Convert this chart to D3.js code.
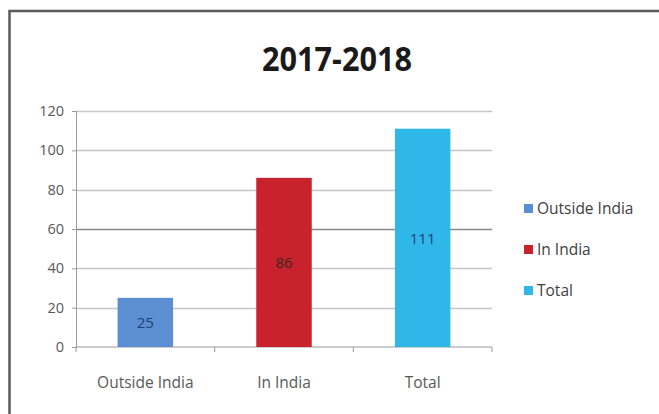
<!DOCTYPE html>
<html>
<head>
<meta charset="utf-8">
<script src="https://cdn.jsdelivr.net/npm/d3@7/dist/d3.min.js"></script>
<style>
  body { margin: 0; background: #fff; }
  svg { display: block; font-family: "Open Sans", sans-serif; }
</style>
</head>
<body>
<svg id="chart"></svg>
<script>
// Chart data
const categories = ["Outside India", "In India", "Total"];
const values = [25, 86, 111];
const barColors = ["#5b8ed2", "#c8232c", "#2fb7ea"];
const labelColors = ["#1f3f73", "#3b2525", "#1f3f7a"];
const yTicks = [0, 20, 40, 60, 80, 100, 120];
const title = "2017-2018";

const width = 659, height = 414;
const margin = { left: 76, right: 167, top: 111, bottom: 67 };

const svg = d3.select("#chart")
    .attr("width", width)
    .attr("height", height);

// Outer frame (runs off the right and bottom edges)
svg.append("rect")
    .attr("x", 9.5)
    .attr("y", 11)
    .attr("width", 700)
    .attr("height", 450)
    .attr("fill", "none")
    .attr("stroke", "#5a5a5a")
    .attr("stroke-width", 2.5);

// Title
svg.append("text")
    .attr("x", 337)
    .attr("y", 71)
    .attr("text-anchor", "middle")
    .attr("font-size", "34px")
    .attr("font-weight", "bold")
    .attr("fill", "#1a1a1a")
    .attr("textLength", 150)
    .attr("lengthAdjust", "spacingAndGlyphs")
    .text(title);

// Scales
const x = d3.scaleBand()
    .domain(categories)
    .range([margin.left, width - margin.right])
    .paddingInner(0.6)
    .paddingOuter(0.3);

const y = d3.scaleLinear()
    .domain([0, 120])
    .range([height - margin.bottom, margin.top]);

// Gridlines
svg.append("g")
    .selectAll("line")
    .data(yTicks.filter(d => d > 0))
    .enter()
    .append("line")
    .attr("x1", margin.left)
    .attr("x2", width - margin.right)
    .attr("y1", d => Math.round(y(d)) + 0.5)
    .attr("y2", d => Math.round(y(d)) + 0.5)
    .attr("stroke", d => d === 60 ? "#8a8a8a" : "#c6c6c6")
    .attr("stroke-width", 1.3);

// Y axis
const yAxis = svg.append("g")
    .attr("transform", `translate(${margin.left},0)`)
    .call(d3.axisLeft(y).tickValues(yTicks).tickSize(4).tickPadding(8));
yAxis.select(".domain").attr("stroke", "#9a9a9a");
yAxis.selectAll(".tick line").attr("stroke", "#9a9a9a");
yAxis.selectAll(".tick text")
    .attr("fill", "#595959")
    .attr("font-size", "14.5px")
    .attr("font-family", "Open Sans, sans-serif");

// X axis: ticks at band boundaries
const xAxis = svg.append("g")
    .attr("transform", `translate(0,${y(0)})`);
xAxis.append("line")
    .attr("x1", margin.left)
    .attr("x2", width - margin.right)
    .attr("stroke", "#9a9a9a");
const bounds = categories.map(c => x(c) - x.step() * x.paddingInner() / 2)
    .concat([width - margin.right]);
xAxis.selectAll(".btick")
    .data(bounds)
    .enter()
    .append("line")
    .attr("x1", d => d)
    .attr("x2", d => d)
    .attr("y1", 0)
    .attr("y2", 5)
    .attr("stroke", "#9a9a9a");
xAxis.selectAll(".xlabel")
    .data(categories)
    .enter()
    .append("text")
    .attr("x", d => x(d) + x.bandwidth() / 2)
    .attr("y", 41)
    .attr("text-anchor", "middle")
    .attr("font-size", "15.5px")
    .attr("fill", "#595959")
    .text(d => d);

// Bars
svg.append("g")
    .selectAll("rect")
    .data(values)
    .enter()
    .append("rect")
    .attr("x", (d, i) => x(categories[i]))
    .attr("y", d => y(d))
    .attr("width", x.bandwidth())
    .attr("height", d => y(0) - y(d))
    .attr("fill", (d, i) => barColors[i]);

// Data labels
svg.append("g")
    .selectAll("text")
    .data(values)
    .enter()
    .append("text")
    .attr("x", (d, i) => x(categories[i]) + x.bandwidth() / 2)
    .attr("y", d => (y(d) + y(0)) / 2 + 6)
    .attr("text-anchor", "middle")
    .attr("font-size", "15px")
    .attr("fill", (d, i) => labelColors[i])
    .text(d => d);

// Legend
const legend = svg.append("g").attr("transform", "translate(524,204)");
legend.selectAll("rect")
    .data(categories)
    .enter()
    .append("rect")
    .attr("x", 0)
    .attr("y", (d, i) => i * 41)
    .attr("width", 9)
    .attr("height", 9)
    .attr("fill", (d, i) => barColors[i]);
legend.selectAll("text")
    .data(categories)
    .enter()
    .append("text")
    .attr("x", 13)
    .attr("y", (d, i) => i * 41 + 10)
    .attr("font-size", "15.5px")
    .attr("fill", "#404040")
    .text(d => d);
</script>
</body>
</html>
